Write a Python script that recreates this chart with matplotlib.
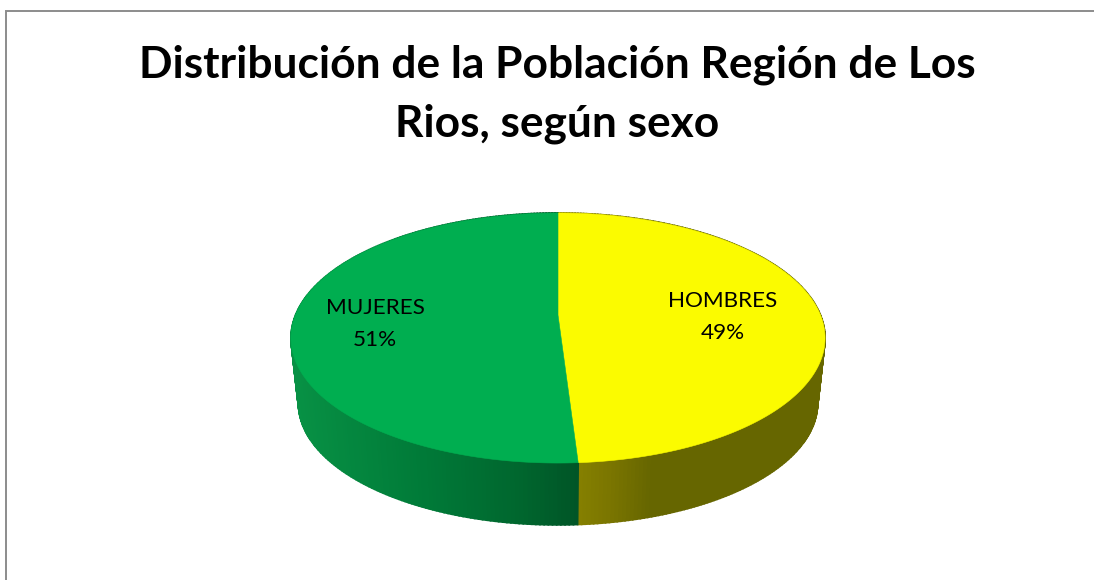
import numpy as np
import matplotlib
matplotlib.use('Agg')
import matplotlib.pyplot as plt

# data
categories = ['HOMBRES', 'MUJERES']
shares = [49, 51]
title = 'Distribución de la Población Región de Los\nRios, según sexo'

# colours
top_colors = ['#FBFB00', '#00AE50']
# side wall shading: (x pixel, rgb) stops
wall_stops = [
    ([580, 610, 650, 830], [(0.52, 0.50, 0.0), (0.48, 0.46, 0.0), (0.40, 0.40, 0.0), (0.40, 0.40, 0.0)]),
    ([290, 420, 520, 580], [(0.03, 0.57, 0.27), (0.0, 0.48, 0.22), (0.0, 0.40, 0.18), (0.0, 0.33, 0.15)]),
]

# pie geometry in pixels
cx, cy = 558, 315
radius = 262.5
squash = 120.8
persp = 0.184
wall_drop = 66
wall_scale = 0.972


def project(theta, drop=0, scale=1.0):
    # theta runs clockwise from the back of the pie
    u, v = np.sin(theta), np.cos(theta)
    w = 1 + persp * v
    return cx + scale * radius * u / w, cy + drop - scale * squash * v / w


fig = plt.figure(figsize=(10.94, 5.8), dpi=100)
ax = fig.add_axes([0, 0, 1, 1])
ax.set_xlim(0, 1094)
ax.set_ylim(580, 0)
ax.axis('off')

# chart frame
ax.plot([5.5, 5.5, 1094], [580, 10.5, 10.5], color='#8c8c8c', lw=1.4, solid_joinstyle='miter')

edges = np.cumsum([0] + shares) / sum(shares) * 2 * np.pi

# side wall first, as strips shaded by x position
for i in range(len(shares)):
    stops_x, stops_rgb = wall_stops[i]
    stops_rgb = np.array(stops_rgb)
    t = np.linspace(edges[i], edges[i + 1], 240)
    x0, y0 = project(t)
    x1, y1 = project(t, wall_drop, wall_scale)
    for j in range(len(t) - 1):
        xm = (x0[j] + x0[j + 1]) / 2
        col = [np.interp(xm, stops_x, stops_rgb[:, k]) for k in range(3)]
        ax.fill([x0[j], x0[j + 1], x1[j + 1], x1[j]], [y0[j], y0[j + 1], y1[j + 1], y1[j]],
                color=col, lw=1.2, zorder=2)

# top face
for i in range(len(shares)):
    t = np.linspace(edges[i], edges[i + 1], 300)
    x, y = project(t)
    ax.fill(np.r_[cx, x], np.r_[cy, y], color=top_colors[i], lw=0.4, zorder=3)

ax.text(557, 94, title, ha='center', va='center', fontsize=31.9, fontweight='bold',
        family='Lato', color='black', linespacing=1.56, zorder=5)

label_pos = [(723, 317), (375, 324)]
for name, val, pos in zip(categories, shares, label_pos):
    ax.text(pos[0], pos[1], '%s\n%d%%' % (name, val), ha='center', va='center', fontsize=16.2,
            family='Lato', color='black', linespacing=1.8, zorder=5)

fig.savefig('out.png', dpi=100)
